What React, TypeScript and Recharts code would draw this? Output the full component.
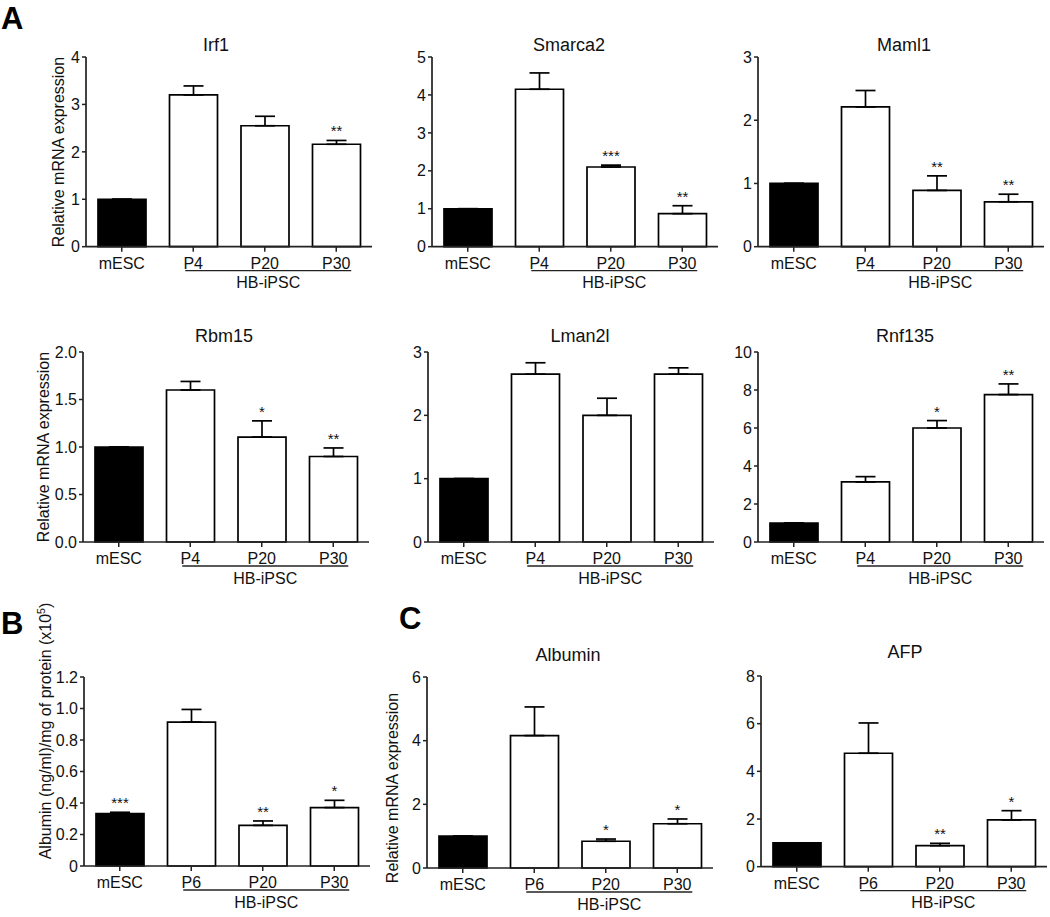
import React from 'react';
import { BarChart, Bar, XAxis, YAxis, ErrorBar, Cell, LabelList } from 'recharts';

const FONT = "'Liberation Sans', Arial, Helvetica, sans-serif";
const INK = '#111';
const AXIS = '#222';

// ---------- data ----------
const groupsA = ['mESC', 'P4', 'P20', 'P30'];
const groupsBC = ['mESC', 'P6', 'P20', 'P30'];
const groupLabel = 'HB-iPSC';

const irf1Values = [1, 3.2, 2.55, 2.16];
const irf1Errors = [0, 0.19, 0.2, 0.08];
const irf1Sig = ['', '', '', '**'];
const irf1Ticks = [0, 1, 2, 3, 4];

const smarca2Values = [1, 4.15, 2.1, 0.87];
const smarca2Errors = [0, 0.43, 0.05, 0.21];
const smarca2Sig = ['', '', '***', '**'];
const smarca2Ticks = [0, 1, 2, 3, 4, 5];

const maml1Values = [1, 2.21, 0.89, 0.71];
const maml1Errors = [0, 0.26, 0.23, 0.12];
const maml1Sig = ['', '', '**', '**'];
const maml1Ticks = [0, 1, 2, 3];

const rbm15Values = [1, 1.6, 1.105, 0.9];
const rbm15Errors = [0, 0.09, 0.17, 0.09];
const rbm15Sig = ['', '', '*', '**'];
const rbm15Ticks = [0, 0.5, 1, 1.5, 2];
const rbm15TickLabels = ['0.0', '0.5', '1.0', '1.5', '2.0'];

const lman2lValues = [1, 2.65, 2.0, 2.65];
const lman2lErrors = [0, 0.18, 0.27, 0.1];
const lman2lSig = ['', '', '', ''];
const lman2lTicks = [0, 1, 2, 3];

const rnf135Values = [1, 3.16, 6.0, 7.76];
const rnf135Errors = [0, 0.28, 0.39, 0.56];
const rnf135Sig = ['', '', '*', '**'];
const rnf135Ticks = [0, 2, 4, 6, 8, 10];

const albProteinValues = [0.333, 0.914, 0.258, 0.371];
const albProteinErrors = [0.008, 0.08, 0.028, 0.046];
const albProteinSig = ['***', '', '**', '*'];
const albProteinTicks = [0, 0.2, 0.4, 0.6, 0.8, 1.0, 1.2];
const albProteinTickLabels = ['0', '0.2', '0.4', '0.6', '0.8', '1.0', '1.2'];

const albMrnaValues = [1, 4.16, 0.84, 1.39];
const albMrnaErrors = [0, 0.9, 0.07, 0.15];
const albMrnaSig = ['', '', '*', '*'];
const albMrnaTicks = [0, 2, 4, 6];

const afpValues = [1, 4.76, 0.88, 1.96];
const afpErrors = [0, 1.27, 0.1, 0.39];
const afpSig = ['', '', '**', '*'];
const afpTicks = [0, 2, 4, 6, 8];

// ---------- panel ----------
type PanelProps = {
  categories: string[];
  values: number[];
  errors: number[];
  sig: string[];
  ticks: number[];
  tickLabels?: string[];
  axisX: number;
  plotTop: number;
  plotBottom: number;
  plotRight: number;
};

const LEFT_PAD = 50;
const TOP_PAD = 14;
const X_AXIS_H = 58;
const RIGHT_PAD = 4;
const TICK_FS = 16;

function Panel(p: PanelProps) {
  const data = p.categories.map((c, i) => ({
    name: c,
    value: p.values[i],
    err: [0, p.errors[i]],
    sig: p.sig[i],
  }));
  const left = p.axisX - LEFT_PAD;
  const top = p.plotTop - TOP_PAD;
  const width = p.plotRight + RIGHT_PAD - left;
  const height = p.plotBottom + X_AXIS_H - top;
  const band = (p.plotRight - p.axisX) / p.categories.length;
  const yMax = p.ticks[p.ticks.length - 1];

  const fmt = (v: number) => {
    const i = p.ticks.indexOf(v);
    if (p.tickLabels && i >= 0) return p.tickLabels[i];
    return String(v);
  };

  const renderXTick = (props: any) => {
    const { x, y, payload, index } = props;
    const half = payload && typeof payload.offset === 'number' && payload.offset > 0 ? payload.offset : band / 2;
    const x1 = x - 8;
    const x2 = x + 4 * half + 15;
    return (
      <g>
        <text x={x} y={y} dy="0.71em" textAnchor="middle" fontSize={TICK_FS} fill={INK} fontFamily={FONT}>
          {payload.value}
        </text>
        {index === 1 && (
          <g>
            <line x1={x1} x2={x2} y1={y + 13} y2={y + 13} stroke={AXIS} strokeWidth={1.3} />
            <text x={(x1 + x2) / 2} y={y + 30.5} textAnchor="middle" fontSize={TICK_FS} fill={INK} fontFamily={FONT}>
              {groupLabel}
            </text>
          </g>
        )}
      </g>
    );
  };

  const renderSig = (props: any) => {
    const vb = props.viewBox && typeof props.viewBox.x === 'number' ? props.viewBox : props;
    const idx = props.index;
    const val = props.value;
    if (!val || idx == null) return null;
    const bx = vb.x, by = vb.y, bw = vb.width, bh = Math.abs(vb.height);
    const v = p.values[idx];
    const pxPerUnit = bh / v;
    const capY = by - p.errors[idx] * pxPerUnit;
    return (
      <text x={bx + bw / 2} y={capY - 4} textAnchor="middle" fontSize={15} fill={INK} fontFamily={FONT}>
        {val}
      </text>
    );
  };

  return (
    <div style={{ position: 'absolute', left, top, width, height }}>
      <BarChart
        width={width}
        height={height}
        data={data}
        margin={{ top: TOP_PAD, right: RIGHT_PAD, left: 0, bottom: 0 }}
        barCategoryGap={0}
      >
        <XAxis
          dataKey="name"
          height={X_AXIS_H}
          interval={0}
          tickSize={5}
          tickMargin={6}
          axisLine={{ stroke: AXIS, strokeWidth: 1.7 }}
          tickLine={{ stroke: AXIS, strokeWidth: 1.5 }}
          tick={renderXTick}
        />
        <YAxis
          type="number"
          width={LEFT_PAD}
          domain={[0, yMax]}
          ticks={p.ticks}
          interval={0}
          tickSize={4}
          tickMargin={2}
          tickFormatter={fmt}
          axisLine={{ stroke: AXIS, strokeWidth: 1.7 }}
          tickLine={{ stroke: AXIS, strokeWidth: 1.5 }}
          tick={{ fill: INK, fontSize: TICK_FS, fontFamily: FONT }}
        />
        <Bar dataKey="value" barSize={48} stroke="#000" strokeWidth={1.7} isAnimationActive={false}>
          {data.map((d, i) => (
            <Cell key={`c-${i}`} fill={i === 0 ? '#000' : '#fff'} />
          ))}
          <ErrorBar dataKey="err" width={10} stroke="#000" strokeWidth={1.7} direction="y" isAnimationActive={false} />
          <LabelList dataKey="sig" content={renderSig} />
        </Bar>
      </BarChart>
    </div>
  );
}

const titleStyle = { fontSize: 18, fill: INK, fontFamily: FONT } as const;
const ylabStyle = { fontSize: 16, fill: INK, fontFamily: FONT } as const;
const letterStyle = { fontSize: 31, fontWeight: 700, fill: '#000', fontFamily: FONT } as const;

export default function App() {
  return (
    <div
      style={{
        position: 'absolute',
        left: 0,
        top: 0,
        width: 1050,
        height: 917,
        overflow: 'hidden',
        background: '#fff',
        fontFamily: FONT,
      }}
    >
      {/* Row 1 */}
      <Panel categories={groupsA} values={irf1Values} errors={irf1Errors} sig={irf1Sig} ticks={irf1Ticks}
        axisX={86} plotTop={57.3} plotBottom={247} plotRight={372} />
      <Panel categories={groupsA} values={smarca2Values} errors={smarca2Errors} sig={smarca2Sig} ticks={smarca2Ticks}
        axisX={431.7} plotTop={57.3} plotBottom={247} plotRight={717.7} />
      <Panel categories={groupsA} values={maml1Values} errors={maml1Errors} sig={maml1Sig} ticks={maml1Ticks}
        axisX={758.3} plotTop={57.3} plotBottom={247} plotRight={1044.3} />

      {/* Row 2 */}
      <Panel categories={groupsA} values={rbm15Values} errors={rbm15Errors} sig={rbm15Sig} ticks={rbm15Ticks}
        tickLabels={rbm15TickLabels} axisX={82.7} plotTop={351.7} plotBottom={541.7} plotRight={368.7} />
      <Panel categories={groupsA} values={lman2lValues} errors={lman2lErrors} sig={lman2lSig} ticks={lman2lTicks}
        axisX={428.3} plotTop={351.7} plotBottom={541.7} plotRight={714.3} />
      <Panel categories={groupsA} values={rnf135Values} errors={rnf135Errors} sig={rnf135Sig} ticks={rnf135Ticks}
        axisX={758.3} plotTop={351.7} plotBottom={541.7} plotRight={1044.3} />

      {/* Row 3 */}
      <Panel categories={groupsBC} values={albProteinValues} errors={albProteinErrors} sig={albProteinSig}
        ticks={albProteinTicks} tickLabels={albProteinTickLabels}
        axisX={84.3} plotTop={676.7} plotBottom={865.7} plotRight={370.3} />
      <Panel categories={groupsBC} values={albMrnaValues} errors={albMrnaErrors} sig={albMrnaSig} ticks={albMrnaTicks}
        axisX={427.3} plotTop={677.3} plotBottom={868.3} plotRight={713.3} />
      <Panel categories={groupsBC} values={afpValues} errors={afpErrors} sig={afpSig} ticks={afpTicks}
        axisX={761} plotTop={676} plotBottom={866.7} plotRight={1047} />

      {/* Text overlay: panel letters, titles, axis titles */}
      <svg width={1050} height={917} style={{ position: 'absolute', left: 0, top: 0, pointerEvents: 'none' }}>
        <text x={1} y={29} {...letterStyle}>A</text>
        <text x={1} y={634} {...letterStyle}>B</text>
        <text x={399} y={629} {...letterStyle}>C</text>

        <text x={216} y={51} textAnchor="middle" {...titleStyle}>Irf1</text>
        <text x={569} y={51} textAnchor="middle" {...titleStyle}>Smarca2</text>
        <text x={904} y={51} textAnchor="middle" {...titleStyle}>Maml1</text>
        <text x={224} y={342} textAnchor="middle" {...titleStyle}>Rbm15</text>
        <text x={580} y={342} textAnchor="middle" {...titleStyle}>Lman2l</text>
        <text x={905} y={342} textAnchor="middle" {...titleStyle}>Rnf135</text>
        <text x={568} y={661} textAnchor="middle" {...titleStyle}>Albumin</text>
        <text x={905} y={658} textAnchor="middle" {...titleStyle}>AFP</text>

        <text transform="translate(58,152) rotate(-90)" textAnchor="middle" dy="0.35em" {...ylabStyle}>
          Relative mRNA expression
        </text>
        <text transform="translate(43.5,447) rotate(-90)" textAnchor="middle" dy="0.35em" {...ylabStyle}>
          Relative mRNA expression
        </text>
        <text transform="translate(392,788) rotate(-90)" textAnchor="middle" dy="0.35em" {...ylabStyle}>
          Relative mRNA expression
        </text>
        <text transform="translate(45,731) rotate(-90)" textAnchor="middle" dy="0.35em" {...ylabStyle}>
          Albumin (ng/ml)/mg of protein (x10
          <tspan dy={-6} fontSize={10.5}>5</tspan>
          <tspan dy={6}>)</tspan>
        </text>
      </svg>
    </div>
  );
}
